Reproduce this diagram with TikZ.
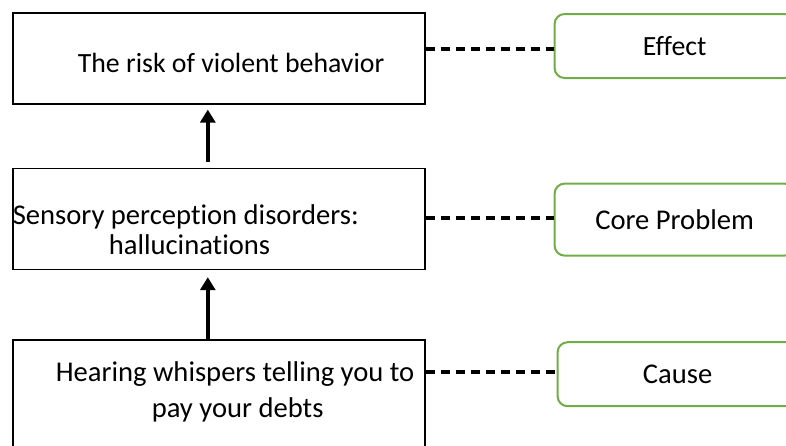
\documentclass[tikz,border=0pt]{standalone}
\usepackage{fontspec}
\setmainfont{Carlito}[Ligatures=CommonOff]
\usetikzlibrary{arrows.meta, positioning, calc}
\definecolor{leafgreen}{HTML}{70AD47}

\begin{document}
\begin{tikzpicture}[
    font=\fontsize{14.3}{17.4}\selectfont,
    >={Triangle[length=6.5pt, width=7.5pt]},
    box/.style={draw=black, line width=0.8pt, inner sep=0pt, text width=206pt, align=flush left},
    tagbox/.style={draw=leafgreen, line width=1pt, rounded corners=5pt, minimum width=120pt, minimum height=#1, anchor=north west, inner sep=0pt, align=center},
    flow/.style={->, line width=1.75pt},
    link/.style={line width=2pt, dash pattern=on 4.5pt off 3pt},
  ]
  \useasboundingbox (0,0) rectangle (393pt,-222.5pt);
  % ---- chain on the left
  \node[box, font=\fontsize{13.9}{17}\selectfont, text height=30pt, text depth=15.5pt, anchor=north west] (risk) at (6pt,-6pt) {\hspace*{32.5pt}The risk of violent behavior};
  \node[box, text height=28pt, text depth=22.5pt, below=31.5pt of risk] (sens) {Sensory perception disorders:\\[-2.4pt]\hspace*{48pt}hallucinations};
  \node[box, text height=20.5pt, text depth=40pt, below=34.5pt of sens] (hear) {\hspace*{21.5pt}Hearing whispers telling you to\\[0.8pt]\hspace*{69.5pt}pay your debts};
  % ---- tags on the right
  \node[tagbox=32pt, font=\fontsize{13.9}{17}\selectfont] (eff) at ([xshift=64pt, yshift=-0.5pt]risk.north east) {Effect};
  \node[tagbox=36pt] (core) at ([xshift=64pt, yshift=-7.5pt]sens.north east) {Core Problem};
  \node[tagbox=32pt] (cause) at ([xshift=65.5pt, yshift=-1pt]hear.north east) {Cause};
  % ---- arrows
  \draw[flow] ([xshift=-5.5pt]hear.north) -- ([xshift=-5.5pt, yshift=-3.5pt]sens.south);
  \draw[flow] ([xshift=-5.5pt, yshift=3pt]sens.north) -- ([xshift=-5.5pt, yshift=-2.5pt]risk.south);
  % ---- dashed links
  \draw[link] ([yshift=-1.5pt]eff.west -| risk.east) -- ([yshift=-1.5pt]eff.west);
  \draw[link] ([yshift=1pt]core.west -| sens.east) -- ([yshift=1pt]core.west);
  \draw[link] ([yshift=1pt]cause.west -| hear.east) -- ([yshift=1pt]cause.west);
\end{tikzpicture}
\end{document}
